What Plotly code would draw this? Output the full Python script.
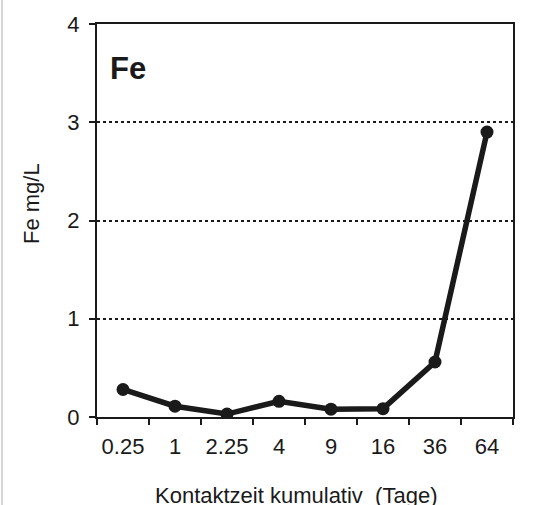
import plotly.graph_objects as go

categories = ["0.25", "1", "2.25", "4", "9", "16", "36", "64"]
fe_values = [0.28, 0.11, 0.03, 0.16, 0.08, 0.085, 0.56, 2.90]
y_ticks = [0, 1, 2, 3, 4]

W, H = 549, 505
L, R, T, B = 97, 36, 24, 88
pw, ph = W - L - R, H - T - B

def px_x(p):
    return (p - L) / pw

def px_y(p):
    return (H - B - p) / ph

FONT = "Liberation Sans, Arial, sans-serif"
INK = "#1a1a1a"

fig = go.Figure()
fig.add_trace(go.Scatter(
    x=categories, y=fe_values, mode="lines+markers",
    line=dict(color=INK, width=5.5),
    marker=dict(color=INK, size=13),
    showlegend=False, hoverinfo="skip",
))

fig.update_layout(
    width=W, height=H,
    margin=dict(l=L, r=R, t=T, b=B, autoexpand=False),
    paper_bgcolor="white", plot_bgcolor="white",
    font=dict(family=FONT, color=INK),
    xaxis=dict(
        type="category", categoryorder="array", categoryarray=categories,
        range=[-0.5, len(categories) - 0.5],
        tickson="boundaries", ticks="outside", ticklen=6, tickwidth=2, tickcolor=INK,
        showline=True, linecolor=INK, linewidth=2, mirror=True,
        showgrid=False, zeroline=False, tickangle=0,
        tickfont=dict(size=22, family=FONT, color=INK),
        ticklabelstandoff=9,
    ),
    yaxis=dict(
        range=[0, 4], tickvals=y_ticks, ticktext=[str(v) for v in y_ticks],
        ticks="outside", ticklen=6, tickwidth=2, tickcolor=INK,
        showline=True, linecolor=INK, linewidth=2, mirror=True,
        showgrid=True, gridcolor=INK, gridwidth=1.5, griddash="dot",
        zeroline=False,
        tickfont=dict(size=22, family=FONT, color=INK),
        ticklabelstandoff=5,
    ),
    annotations=[
        dict(text="<b>Fe</b>", xref="paper", yref="paper",
             x=px_x(108), y=px_y(69), xanchor="left", yanchor="middle",
             showarrow=False, font=dict(size=31, family=FONT, color=INK)),
        dict(text="Fe mg/L", xref="paper", yref="paper",
             x=px_x(31), y=px_y(204), xanchor="center", yanchor="middle",
             textangle=-90, showarrow=False,
             font=dict(size=22, family=FONT, color=INK)),
        dict(text="Kontaktzeit kumulativ  (Tage)", xref="paper", yref="paper",
             x=px_x(296), y=px_y(495), xanchor="center", yanchor="middle",
             showarrow=False, font=dict(size=22, family=FONT, color=INK)),
    ],
    shapes=[
        dict(type="line", xref="paper", yref="paper",
             x0=px_x(2), x1=px_x(2), y0=px_y(0), y1=px_y(H),
             line=dict(color="#c8c8c8", width=1.5)),
    ],
)

fig.write_html("out.html", config={"displayModeBar": False},
               post_script="document.body.style.margin='0';")
